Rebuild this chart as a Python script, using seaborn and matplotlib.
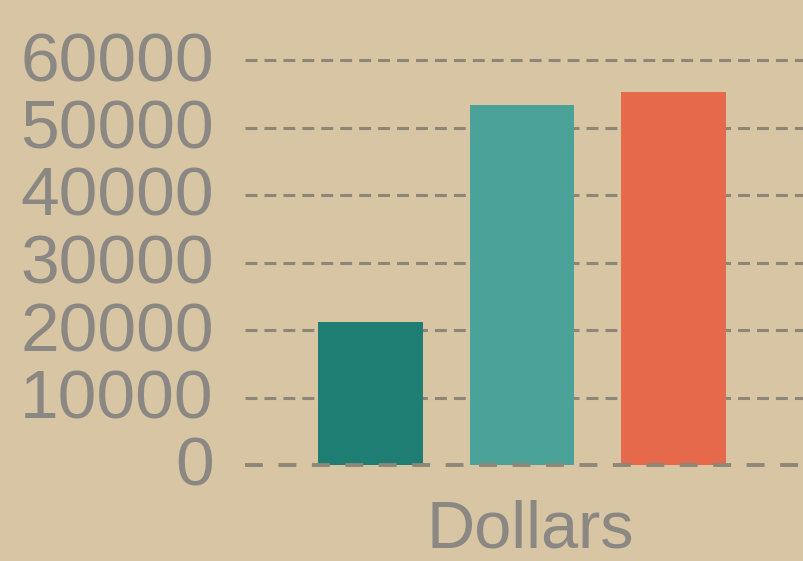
import matplotlib
matplotlib.use("Agg")
import matplotlib.pyplot as plt
import matplotlib.transforms as mtransforms
import seaborn as sns
import pandas as pd

# ---- data ----
categories = ["Dollars"]
series = ["Series 1", "Series 2", "Series 3"]
values = [21200, 53300, 55300]
bar_colors = ["#1F7E73", "#4BA299", "#E6694C"]
y_ticks = [0, 10000, 20000, 30000, 40000, 50000, 60000]

df = pd.DataFrame({
    "category": categories * len(series),
    "series": series,
    "value": values,
})

bg = "#D7C5A4"
txt = "#8B8782"
grid_c = "#8E8777"

sns.set_theme(style="white")
plt.rcParams["font.family"] = ["Liberation Sans", "DejaVu Sans"]

fig = plt.figure(figsize=(8.04, 5.61), dpi=100, facecolor=bg)
ax = fig.add_axes([245 / 804, 1 - 465 / 561, 1 - 245 / 804, (465 - 60) / 561])
ax.set_facecolor(bg)

sns.barplot(data=df, x="category", y="value", hue="series",
            palette=bar_colors, gap=0.31, legend=False, ax=ax,
            saturation=1, zorder=2, linewidth=0)

ax.set_ylim(0, 60000)
ax.set_xlim(-0.488, 0.496)
ax.set_yticks(y_ticks)
ax.set_yticklabels([str(t) for t in y_ticks])

for t in y_ticks[1:]:
    ax.axhline(t, color=grid_c, lw=2.2, dashes=(3.9, 2.3), zorder=1, clip_on=False)
ax.axhline(0, color=grid_c, lw=2.8, dashes=(4.6, 4.0), zorder=3, clip_on=False)

for s in ax.spines.values():
    s.set_visible(False)
ax.tick_params(axis="y", length=0, pad=24, labelsize=50, labelcolor=txt)
ax.tick_params(axis="x", length=0, pad=25, labelsize=48, labelcolor=txt)
ax.set_xlabel("")
ax.set_ylabel("")
ax.grid(False)

# small offsets to match the reference text placement
y_off = mtransforms.ScaledTranslation(2 / 100, 4 / 100, fig.dpi_scale_trans)
for lab in ax.get_yticklabels():
    lab.set_transform(lab.get_transform() + y_off)
x_off = mtransforms.ScaledTranslation(8 / 100, 0, fig.dpi_scale_trans)
for lab in ax.get_xticklabels():
    lab.set_transform(lab.get_transform() + x_off)

fig.savefig("out.png", dpi=100, facecolor=bg)
